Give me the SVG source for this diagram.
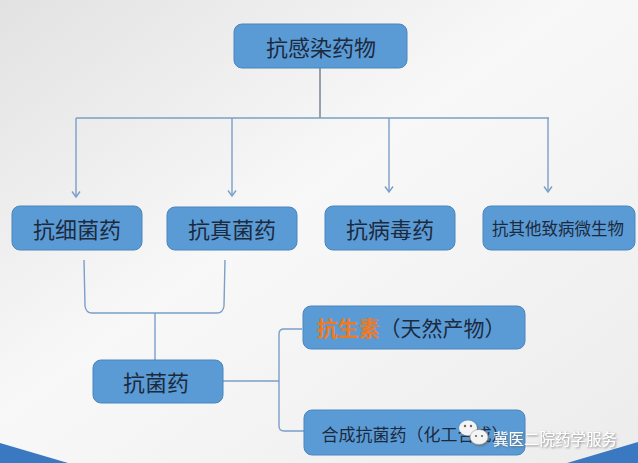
<svg xmlns="http://www.w3.org/2000/svg" width="638" height="463" viewBox="0 0 638 463">
<defs>
<linearGradient id="bg" x1="0" y1="0" x2="1" y2="1">
<stop offset="0" stop-color="#e2e2e2"/>
<stop offset="0.45" stop-color="#f8f8f8"/>
<stop offset="1" stop-color="#ececec"/>
</linearGradient>
<marker id="arr" viewBox="0 0 10 10" refX="8.5" refY="5" markerWidth="10" markerHeight="10" markerUnits="userSpaceOnUse" orient="auto">
<polyline points="3,1 8.5,5 3,9" fill="none" stroke="#7a9fc8" stroke-width="1.4"/>
</marker>
<filter id="sh" x="-20%" y="-50%" width="140%" height="200%">
<feDropShadow dx="1" dy="1" stdDeviation="0.8" flood-color="#555" flood-opacity="0.7"/>
</filter>
</defs>
<style>
.box{fill:#5b9bd5;stroke:#4b85bd;stroke-width:1}
.t{font-family:"Noto Sans CJK SC","Noto Sans CJK JP",sans-serif;fill:#1c2a3e;text-anchor:middle;dominant-baseline:central}
.ln{fill:none;stroke:#7a9fc8;stroke-width:1.4}
</style>
<rect width="638" height="463" fill="url(#bg)"/>
<polygon points="0,443 68,463 0,463" fill="#3b78c2"/>
<polygon points="567,463 638,442 638,463" fill="#3b78c2"/>

<g id="connectors">
<line x1="320" y1="68" x2="320" y2="118" stroke="#5a6878" stroke-width="1.2"/>
<line class="ln" x1="76" y1="118" x2="549" y2="118"/>
<line class="ln" x1="76" y1="118" x2="76" y2="197" marker-end="url(#arr)"/>
<line class="ln" x1="232" y1="118" x2="232" y2="196" marker-end="url(#arr)"/>
<line class="ln" x1="389" y1="118" x2="389" y2="192" marker-end="url(#arr)"/>
<line class="ln" x1="548" y1="118" x2="548" y2="192" marker-end="url(#arr)"/>
<path class="ln" d="M84,260 L85,306 Q86,313 92,313 L217,313 Q223,313 224,306 L225,260"/>
<line class="ln" x1="155" y1="313" x2="155" y2="360"/>
<line class="ln" x1="223" y1="381" x2="279" y2="381"/>
<path class="ln" d="M302,329 L284,329 Q279,329 279,334 L279,426 Q279,431 284,431 L304,431"/>
</g>

<g id="n-root"><rect class="box" x="234" y="24" width="173" height="44" rx="8"/><text class="t" x="321" y="46" font-size="22">抗感染药物</text></g>
<g id="n-bacteria"><rect class="box" x="12" y="206" width="130" height="44" rx="8"/><text class="t" x="77" y="228" font-size="22">抗细菌药</text></g>
<g id="n-fungi"><rect class="box" x="167" y="207" width="130" height="43" rx="8"/><text class="t" x="232" y="228" font-size="22">抗真菌药</text></g>
<g id="n-virus"><rect class="box" x="325" y="206" width="130" height="44" rx="8"/><text class="t" x="390" y="228" font-size="22">抗病毒药</text></g>
<g id="n-other"><rect class="box" x="483" y="206" width="152" height="44" rx="8"/><text class="t" x="558" y="228" font-size="16.5">抗其他致病微生物</text></g>
<g id="n-antibac"><rect class="box" x="93" y="360" width="130" height="43" rx="8"/><text class="t" x="156" y="381" font-size="22">抗菌药</text></g>
<g id="n-antibiotic"><rect class="box" x="303" y="306" width="222" height="43" rx="8"/><text class="t" x="411" y="327" font-size="21"><tspan fill="#f07a22" font-weight="bold">抗生素</tspan>（天然产物）</text></g>
<g id="n-synthetic"><rect class="box" x="304" y="410" width="221" height="45" rx="8"/><text class="t" x="415" y="433" font-size="17">合成抗菌药（化工合成）</text></g>

<g id="watermark" filter="url(#sh)">
<ellipse cx="468" cy="428" rx="9" ry="7.5" fill="#f4f4f4"/>
<ellipse cx="479" cy="437" rx="9" ry="7.5" fill="#f4f4f4" stroke="#999" stroke-width="0.6"/>
<circle cx="465" cy="426" r="1.2" fill="#666"/><circle cx="471" cy="426" r="1.2" fill="#666"/>
<circle cx="476" cy="436" r="1.1" fill="#666"/><circle cx="482" cy="436" r="1.1" fill="#666"/>
<text x="493" y="438" font-family="'Noto Sans CJK SC',sans-serif" font-size="15.5" fill="#ffffff" dominant-baseline="central">冀医二院药学服务</text>
</g>
</svg>
